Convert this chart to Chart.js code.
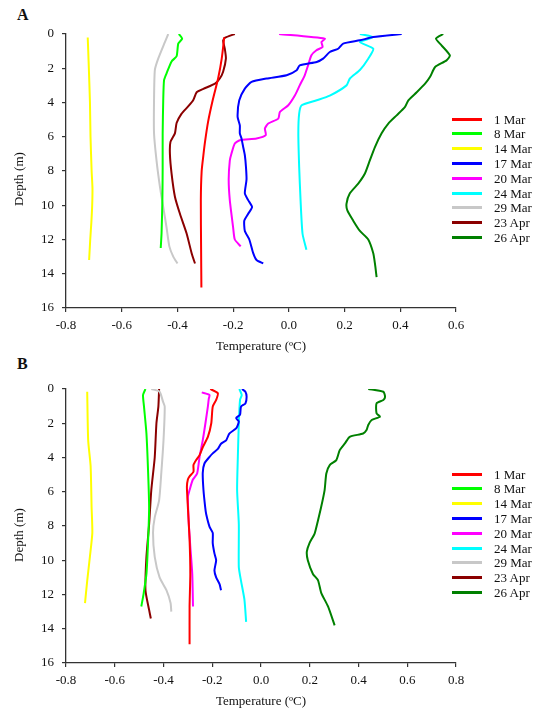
<!DOCTYPE html>
<html><head><meta charset="utf-8">
<script src="https://cdn.jsdelivr.net/npm/chart.js@4.4.0/dist/chart.umd.min.js"></script>
<style>
html,body{margin:0;padding:0;background:#fff;width:550px;height:714px;overflow:hidden;font-family:"Liberation Serif","Times New Roman",serif;}
.panel{position:absolute;left:0;width:550px;height:359px;}
.panel canvas{position:absolute;left:0;top:0;}
.tag{position:absolute;left:17px;font-weight:bold;font-size:16px;line-height:16px;color:#111;}
.ytitle{position:absolute;font-size:13px;line-height:14px;color:#111;white-space:nowrap;transform:translate(-50%,-50%) rotate(-90deg);}
.legend{position:absolute;left:452px;top:0;font-size:13px;color:#111;}
.legend .row{position:absolute;left:0;height:15px;line-height:15px;white-space:nowrap;}
.legend .sw{position:absolute;left:0;top:6px;width:30px;height:3px;}
.legend .lb{position:absolute;left:42px;top:0;}
</style></head>
<body>
<div class="tag" style="top:7px;">A</div>
<div class="tag" style="top:356px;">B</div>
<div class="panel" id="pA" style="top:0;"><canvas id="cA" width="550" height="359"></canvas></div>
<div class="panel" id="pB" style="top:355px;"><canvas id="cB" width="550" height="359"></canvas></div>
<div class="ytitle" style="left:19px;top:179px;">Depth (m)</div>
<div class="ytitle" style="left:19px;top:535px;">Depth (m)</div>
<script>
// ---- series labels & tick values ----
const seriesLabels = ['1 Mar','8 Mar','14 Mar','17 Mar','20 Mar','24 Mar','29 Mar','23 Apr','26 Apr'];
const xTicksA = [-0.8,-0.6,-0.4,-0.2,0.0,0.2,0.4,0.6];
const xTicksB = [-0.8,-0.6,-0.4,-0.2,0.0,0.2,0.4,0.6,0.8];
const yTicks = [0,2,4,6,8,10,12,14,16];
const xTitle = 'Temperature (ºC)';

// ---- Panel A data (depth m, temperature °C) ----
const A_1Mar_depth = [0.2,1.44,2.6,3.77,5.13,6.3,7.1,8.0,9.7,12.6,14.8];
const A_1Mar_temp  = [-0.232,-0.241,-0.254,-0.272,-0.29,-0.301,-0.307,-0.313,-0.316,-0.315,-0.314];
const A_8Mar_depth = [0,0.27,0.56,1.3,1.6,2.3,2.7,3.9,5.8,7.8,9.7,11.65,12.5];
const A_8Mar_temp  = [-0.395,-0.383,-0.397,-0.403,-0.421,-0.439,-0.448,-0.451,-0.453,-0.453,-0.454,-0.457,-0.46];
const A_14Mar_depth = [0.2,2,4,6,8,9,10,11,12,13.2];
const A_14Mar_temp  = [-0.722,-0.718,-0.714,-0.712,-0.708,-0.705,-0.706,-0.709,-0.713,-0.717];
const A_17Mar_depth = [0,0.18,0.37,0.56,0.86,1.05,1.44,1.63,1.83,2.12,2.41,2.6,2.8,3.19,3.87,4.84,5.33,5.8,6.1,6.6,7.08,7.76,8.5,9.3,9.7,10.1,10.5,10.9,11.5,12.0,12.8,13.2,13.4];
const A_17Mar_temp  = [0.405,0.303,0.255,0.195,0.177,0.147,0.123,0.1,0.039,0.028,-0.008,-0.08,-0.134,-0.158,-0.178,-0.184,-0.176,-0.176,-0.17,-0.164,-0.158,-0.154,-0.152,-0.158,-0.146,-0.132,-0.146,-0.16,-0.158,-0.142,-0.128,-0.116,-0.092];
const A_20Mar_depth = [0,0.27,0.47,0.76,0.95,1.24,1.83,2.41,3.0,3.58,4.16,4.55,4.94,5.23,5.52,5.91,6.1,6.2,6.39,6.98,7.4,8.5,9.7,11.3,12.0,12.4];
const A_20Mar_temp  = [-0.035,0.129,0.117,0.121,0.099,0.081,0.069,0.057,0.039,0.022,-0.002,-0.032,-0.038,-0.074,-0.086,-0.083,-0.116,-0.176,-0.194,-0.206,-0.212,-0.216,-0.212,-0.2,-0.194,-0.173];
const A_24Mar_depth = [0,0.18,0.47,0.86,1.44,2.1,2.6,3.0,3.6,3.87,4.16,4.65,5.8,7.76,9.7,11.65,12.6];
const A_24Mar_temp  = [0.255,0.303,0.255,0.303,0.285,0.255,0.219,0.207,0.147,0.1,0.046,0.037,0.034,0.037,0.042,0.049,0.063];
const A_29Mar_depth = [0,0.47,1.44,2.1,3.9,5.8,7.4,8.9,10.1,11.3,12.4,13.0,13.4];
const A_29Mar_temp  = [-0.433,-0.445,-0.469,-0.481,-0.484,-0.484,-0.475,-0.463,-0.451,-0.439,-0.429,-0.415,-0.4];
const A_23Apr_depth = [0,0.23,0.4,0.85,1.44,2.2,2.6,2.9,3.2,3.4,3.85,4.2,4.65,5.2,5.8,6.3,7.0,8.15,9.5,10.5,11.65,12.8,13.4];
const A_23Apr_temp  = [-0.194,-0.23,-0.236,-0.23,-0.226,-0.236,-0.248,-0.265,-0.307,-0.331,-0.343,-0.36,-0.385,-0.403,-0.409,-0.425,-0.427,-0.421,-0.409,-0.391,-0.367,-0.349,-0.337];
const A_26Apr_depth = [0,0.27,0.66,1.25,1.54,1.93,2.5,2.9,3.4,3.87,4.26,4.75,5.23,5.8,6.6,7.37,8.15,8.74,9.3,9.9,10.3,10.9,11.5,12.0,12.8,13.4,14.2];
const A_26Apr_temp  = [0.554,0.528,0.548,0.578,0.566,0.525,0.507,0.489,0.459,0.429,0.417,0.387,0.357,0.333,0.309,0.291,0.273,0.249,0.219,0.207,0.21,0.231,0.255,0.285,0.303,0.309,0.315];

// ---- Panel B data ----
const B_1Mar_depth = [0,0.25,0.64,1.03,2.0,2.8,3.4,3.86,4.15,4.44,4.83,5.1,5.28,5.7,6.9,8.8,10.8,12.7,14.9];
const B_1Mar_temp  = [-0.208,-0.177,-0.184,-0.198,-0.204,-0.218,-0.239,-0.252,-0.266,-0.277,-0.277,-0.293,-0.3,-0.304,-0.3,-0.293,-0.29,-0.293,-0.293];
const B_8Mar_depth = [0,0.35,1.03,2.6,4.9,6.9,8.8,10.8,11.9,12.7];
const B_8Mar_temp  = [-0.474,-0.484,-0.48,-0.47,-0.463,-0.459,-0.463,-0.47,-0.481,-0.491];
const B_14Mar_depth = [0.16,3,4.5,6.9,8.4,9.8,11.2,12.5];
const B_14Mar_temp  = [-0.713,-0.709,-0.699,-0.695,-0.692,-0.702,-0.713,-0.722];
const B_17Mar_depth = [0,0.16,0.45,0.84,1.03,1.5,1.7,1.9,2.3,2.6,3.0,3.2,3.5,3.76,3.96,4.35,4.9,5.9,6.9,7.3,8.05,8.4,9.0,9.6,10.0,10.6,11.0,11.4,11.75];
const B_17Mar_temp  = [-0.078,-0.064,-0.059,-0.064,-0.082,-0.086,-0.102,-0.091,-0.102,-0.13,-0.143,-0.164,-0.177,-0.198,-0.211,-0.232,-0.239,-0.236,-0.229,-0.225,-0.211,-0.198,-0.198,-0.191,-0.184,-0.191,-0.184,-0.17,-0.164];
const B_20Mar_depth = [0.2,0.35,0.55,1.03,2.0,3.0,3.96,4.93,5.3,5.9,6.3,7.9,9.2,10.8,12.7];
const B_20Mar_temp  = [-0.243,-0.211,-0.214,-0.218,-0.228,-0.239,-0.252,-0.262,-0.28,-0.293,-0.3,-0.296,-0.29,-0.282,-0.279];
const B_24Mar_depth = [0,0.35,0.64,2.0,3.96,5.9,7.9,10.4,11.2,12.3,13.6];
const B_24Mar_temp  = [-0.089,-0.079,-0.086,-0.091,-0.095,-0.098,-0.091,-0.091,-0.082,-0.068,-0.061];
const B_29Mar_depth = [0,0.16,0.74,1.03,3.0,4.9,6.5,7.5,8.4,9.8,11.0,11.75,12.5,13.0];
const B_29Mar_temp  = [-0.45,-0.416,-0.402,-0.395,-0.4,-0.409,-0.418,-0.436,-0.443,-0.436,-0.416,-0.388,-0.371,-0.368];
const B_23Apr_depth = [0,1.03,2.0,4.0,5.9,7.9,9.8,11.75,12.9,13.4];
const B_23Apr_temp  = [-0.418,-0.421,-0.429,-0.436,-0.45,-0.459,-0.47,-0.474,-0.459,-0.452];
const B_26Apr_depth = [0,0.16,0.45,0.64,0.84,1.42,1.62,1.81,2.1,2.4,2.6,2.79,3.18,3.57,4.15,4.44,4.93,5.9,6.88,7.66,8.44,9.0,9.5,10.0,10.8,11.17,11.9,12.7,13.8];
const B_26Apr_temp  = [0.44,0.502,0.509,0.502,0.474,0.474,0.488,0.454,0.44,0.433,0.419,0.364,0.344,0.323,0.309,0.282,0.268,0.261,0.247,0.234,0.22,0.199,0.188,0.192,0.213,0.234,0.247,0.275,0.302];

// ---- styles (kept apart from data) ----
const seriesColors = ['#ff0000','#00ff00','#ffff00','#0000ff','#ff00ff','#00ffff','#c8c8c8','#8b0000','#008000'];

const seriesA = [
  [A_1Mar_depth,A_1Mar_temp],[A_8Mar_depth,A_8Mar_temp],[A_14Mar_depth,A_14Mar_temp],
  [A_17Mar_depth,A_17Mar_temp],[A_20Mar_depth,A_20Mar_temp],[A_24Mar_depth,A_24Mar_temp],
  [A_29Mar_depth,A_29Mar_temp],[A_23Apr_depth,A_23Apr_temp],[A_26Apr_depth,A_26Apr_temp]
];
const seriesB = [
  [B_1Mar_depth,B_1Mar_temp],[B_8Mar_depth,B_8Mar_temp],[B_14Mar_depth,B_14Mar_temp],
  [B_17Mar_depth,B_17Mar_temp],[B_20Mar_depth,B_20Mar_temp],[B_24Mar_depth,B_24Mar_temp],
  [B_29Mar_depth,B_29Mar_temp],[B_23Apr_depth,B_23Apr_temp],[B_26Apr_depth,B_26Apr_temp]
];

const TXT = '#111';
const AX = '#333';
Chart.defaults.font.family = '"Liberation Serif","Times New Roman",serif';
Chart.defaults.font.size = 13;
Chart.defaults.color = TXT;

function fmtX(v){ return Math.abs(v) < 1e-9 ? '0.0' : Number(v).toFixed(1); }

function makeChart(canvasId, series, xTicks){
  const datasets = series.map((s, i) => ({
    label: seriesLabels[i],
    data: s[0].map((d, j) => ({x: s[1][j], y: d})),
    borderColor: seriesColors[i],
    backgroundColor: seriesColors[i],
    borderWidth: 2,
    showLine: true,
    pointRadius: 0,
    fill: false,
    tension: 0.2
  }));
  return new Chart(document.getElementById(canvasId), {
    type: 'scatter',
    data: {datasets},
    options: {
      responsive: false,
      animation: false,
      events: [],
      layout: {padding: {top: 34, right: 94, bottom: 1, left: 0}},
      plugins: {legend: {display: false}, tooltip: {enabled: false}},
      scales: {
        x: {
          type: 'linear',
          min: xTicks[0], max: xTicks[xTicks.length - 1],
          afterBuildTicks: s => { s.ticks = xTicks.map(v => ({value: v})); },
          afterFit: s => { s.height = 50; },
          ticks: {callback: v => fmtX(v), padding: 6, color: TXT, maxRotation: 0, autoSkip: false, font: {size: 13}},
          grid: {drawOnChartArea: false, drawTicks: true, tickLength: 4, color: AX, lineWidth: 1.2},
          border: {display: true, color: AX, width: 1.3},
          title: {display: true, text: xTitle, color: TXT, font: {size: 13}, padding: {top: 4, bottom: 4}}
        },
        y: {
          type: 'linear',
          reverse: true,
          min: yTicks[0], max: yTicks[yTicks.length - 1],
          afterBuildTicks: s => { s.ticks = yTicks.map(v => ({value: v})); },
          afterFit: s => { s.width = 66; },
          ticks: {padding: 8, color: TXT, autoSkip: false, font: {size: 13}},
          grid: {drawOnChartArea: false, drawTicks: true, tickLength: 4, color: AX, lineWidth: 1.2},
          border: {display: true, color: AX, width: 1.3},
          title: {display: false}
        }
      }
    }
  });
}

function makeLegend(panelId, chart){
  const panel = document.getElementById(panelId);
  const lg = document.createElement('div');
  lg.className = 'legend';
  chart.data.datasets.forEach((ds, i) => {
    const row = document.createElement('div');
    row.className = 'row';
    row.style.top = (119 - 7.5 + i * 14.8) + 'px';
    const sw = document.createElement('div');
    sw.className = 'sw';
    sw.style.background = ds.borderColor;
    const lb = document.createElement('span');
    lb.className = 'lb';
    lb.textContent = ds.label;
    row.appendChild(sw); row.appendChild(lb);
    lg.appendChild(row);
  });
  panel.appendChild(lg);
}

const chartA = makeChart('cA', seriesA, xTicksA);
const chartB = makeChart('cB', seriesB, xTicksB);
makeLegend('pA', chartA);
makeLegend('pB', chartB);
</script>
</body></html>
